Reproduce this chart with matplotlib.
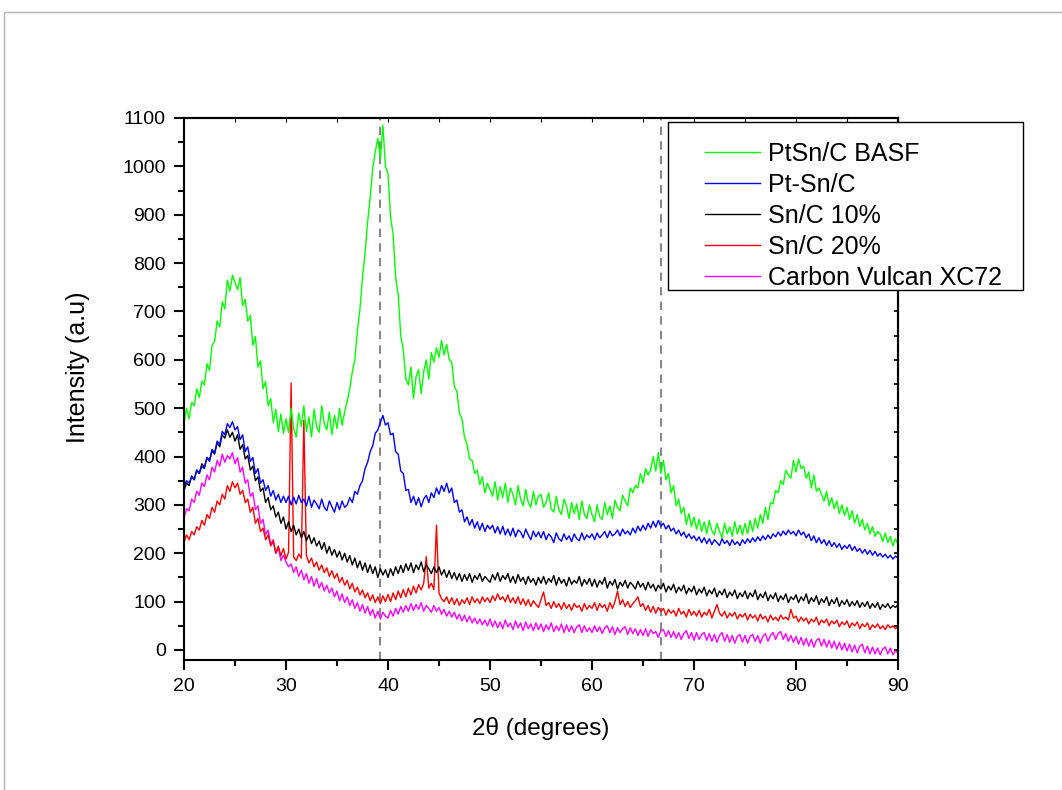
"""
XRD patterns of the PtSn/C catalysts and carbon supports,
intensity as function of 2theta, read off the published figure.
"""
import numpy as np
import matplotlib
matplotlib.use('Agg')
import matplotlib.pyplot as plt
from matplotlib.patches import Rectangle

# 2theta grid, 0.25 degree steps from 20 to 90
two_theta = np.arange(281) * 0.25 + 20

labels = ['PtSn/C BASF', 'Pt-Sn/C', 'Sn/C 10%', 'Sn/C 20%', 'Carbon Vulcan XC72']
colors = ['#00ff00', '#0000ff', '#000000', '#ff0000', '#ff00ff']

# one row = 5 degrees (20 points), last value is 90 deg
ptsn_basf = [
    468, 500, 478, 512, 505, 540, 522, 556, 548, 592, 578, 630, 638, 680, 668, 720, 705, 765, 742, 775,
    760, 745, 770, 712, 725, 680, 692, 630, 648, 585, 598, 540, 555, 505, 520, 470, 498, 452, 488, 448,
    478, 450, 500, 458, 440, 490, 462, 505, 452, 482, 440, 498, 462, 450, 505, 468, 455, 492, 445, 485,
    458, 500, 465, 492, 515, 540, 575, 600, 660, 705, 770, 820, 885, 935, 995, 1030, 1058, 1015, 1085, 1000,
    985, 895, 860, 770, 735, 650, 620, 560, 548, 585, 520, 565, 580, 530, 575, 600, 560, 615, 595, 625,
    605, 640, 610, 632, 600, 595, 545, 535, 490, 478, 440, 425, 395, 392, 365, 372, 342, 358, 325, 345,
    332, 318, 348, 310, 338, 315, 345, 305, 335, 322, 300, 340, 312, 298, 332, 305, 295, 328, 300, 318,
    322, 295, 305, 325, 292, 285, 318, 290, 280, 312, 298, 272, 305, 282, 302, 270, 308, 280, 272, 300,
    280, 265, 300, 276, 270, 305, 280, 298, 272, 310, 295, 288, 320, 308, 298, 335, 325, 340, 335, 365,
    345, 375, 362, 372, 400, 370, 408, 365, 392, 352, 365, 325, 340, 298, 312, 282, 295, 260, 282, 255,
    275, 250, 270, 245, 265, 240, 268, 246, 238, 262, 245, 232, 262, 240, 255, 235, 265, 240, 258, 238,
    262, 240, 268, 245, 272, 252, 280, 262, 295, 270, 305, 302, 330, 325, 350, 342, 372, 362, 355, 392,
    368, 395, 375, 380, 355, 368, 335, 362, 328, 335, 322, 308, 328, 298, 315, 292, 308, 282, 300, 278,
    295, 270, 288, 262, 280, 255, 270, 248, 262, 240, 255, 235, 245, 240, 225, 242, 222, 235, 215, 230,
    218]

pt_sn_c = [
    338, 350, 345, 358, 352, 372, 365, 380, 375, 398, 390, 415, 408, 432, 425, 452, 445, 468, 460, 472,
    455, 462, 435, 445, 410, 420, 390, 398, 365, 375, 345, 352, 330, 340, 318, 330, 310, 322, 305, 318,
    305, 318, 300, 316, 302, 320, 305, 312, 298, 318, 295, 310, 302, 292, 312, 295, 288, 308, 296, 285,
    305, 290, 308, 295, 300, 315, 305, 328, 322, 340, 350, 375, 388, 410, 422, 448, 455, 470, 485, 465,
    470, 445, 448, 410, 405, 370, 365, 330, 332, 305, 318, 300, 315, 296, 312, 320, 305, 325, 315, 335,
    322, 340, 328, 345, 325, 335, 305, 310, 285, 290, 265, 275, 258, 270, 252, 265, 248, 262, 245, 258,
    250, 258, 242, 255, 240, 256, 238, 250, 236, 252, 234, 248, 244, 232, 250, 238, 228, 246, 234, 244,
    232, 245, 228, 240, 234, 222, 242, 230, 225, 240, 228, 236, 224, 240, 230, 226, 242, 228, 238, 232,
    240, 228, 242, 232, 238, 245, 232, 246, 236, 240, 248, 236, 250, 240, 246, 238, 252, 242, 256, 246,
    258, 248, 262, 252, 266, 254, 268, 256, 262, 250, 258, 246, 252, 240, 248, 236, 244, 232, 240, 230,
    236, 226, 234, 222, 232, 220, 230, 218, 228, 222, 216, 230, 220, 226, 216, 228, 218, 224, 216, 228,
    220, 230, 222, 232, 224, 234, 226, 236, 228, 238, 230, 240, 234, 244, 236, 246, 238, 248, 240, 245,
    236, 248, 238, 244, 232, 240, 226, 236, 222, 232, 220, 228, 216, 226, 214, 222, 212, 220, 208, 216,
    210, 218, 206, 214, 204, 210, 200, 208, 198, 206, 196, 204, 194, 200, 192, 198, 190, 196, 188, 194,
    190]

sn_c_10 = [
    330, 345, 340, 360, 352, 372, 365, 385, 378, 398, 392, 412, 405, 428, 420, 445, 438, 455, 440, 450,
    432, 445, 415, 425, 395, 402, 372, 380, 350, 358, 328, 335, 305, 315, 290, 298, 275, 285, 262, 275,
    250, 265, 245, 258, 238, 250, 232, 245, 226, 238, 220, 232, 215, 225, 208, 222, 200, 214, 196, 208,
    192, 204, 186, 200, 182, 195, 176, 190, 170, 184, 165, 180, 160, 176, 158, 172, 150, 168, 155, 166,
    150, 168, 154, 172, 158, 175, 160, 178, 164, 180, 160, 176, 166, 182, 162, 176, 168, 158, 172, 160,
    172, 155, 166, 150, 164, 148, 160, 145, 158, 142, 156, 144, 158, 140, 154, 146, 158, 142, 152, 146,
    140, 156, 145, 160, 142, 154, 146, 158, 140, 152, 138, 156, 142, 150, 136, 152, 140, 148, 134, 150,
    138, 152, 136, 148, 140, 154, 134, 150, 138, 146, 132, 150, 136, 144, 138, 152, 132, 146, 136, 148,
    132, 146, 130, 144, 136, 150, 128, 142, 134, 146, 126, 140, 132, 144, 128, 140, 134, 126, 142, 130,
    138, 124, 140, 128, 136, 122, 134, 126, 138, 120, 132, 124, 136, 118, 130, 122, 134, 116, 128, 120,
    132, 114, 126, 118, 130, 112, 124, 116, 128, 110, 122, 114, 126, 108, 120, 112, 124, 106, 118, 110,
    122, 106, 118, 110, 124, 104, 116, 108, 120, 102, 114, 106, 118, 100, 112, 104, 116, 98, 110, 104,
    114, 98, 110, 102, 116, 96, 108, 100, 112, 94, 106, 98, 110, 92, 104, 96, 108, 90, 102, 94,
    104, 90, 100, 92, 102, 88, 98, 90, 100, 86, 96, 88, 98, 84, 94, 88, 96, 86, 92, 88,
    94]

sn_c_20 = [
    222, 238, 228, 245, 238, 255, 248, 268, 258, 280, 272, 295, 285, 308, 300, 322, 312, 340, 328, 348,
    335, 345, 322, 330, 305, 312, 285, 295, 262, 272, 245, 252, 228, 238, 215, 225, 200, 215, 195, 210,
    188, 202, 552, 192, 185, 198, 190, 475, 195, 180, 190, 172, 182, 165, 176, 160, 170, 152, 164, 148,
    158, 140, 150, 134, 144, 126, 138, 120, 130, 114, 124, 108, 118, 102, 114, 98, 110, 96, 112, 100,
    115, 100, 118, 104, 122, 108, 125, 110, 128, 114, 132, 118, 135, 124, 138, 193, 128, 138, 125, 258,
    118, 106, 100, 110, 96, 108, 94, 106, 92, 104, 96, 108, 94, 110, 98, 106, 96, 110, 100, 108,
    98, 112, 102, 116, 104, 110, 100, 114, 98, 108, 96, 110, 94, 106, 92, 104, 90, 102, 94, 88,
    104, 120, 92, 98, 86, 100, 88, 96, 84, 98, 86, 94, 82, 96, 88, 92, 80, 96, 84, 92,
    86, 98, 82, 96, 88, 94, 80, 98, 86, 100, 122, 94, 104, 90, 100, 88, 96, 102, 110, 90,
    96, 82, 92, 78, 90, 76, 88, 80, 86, 72, 84, 76, 82, 70, 86, 74, 80, 68, 84, 72,
    80, 70, 82, 68, 78, 72, 84, 66, 80, 94, 76, 70, 80, 66, 76, 70, 78, 64, 74, 68,
    76, 62, 74, 66, 72, 60, 74, 64, 70, 58, 72, 62, 68, 60, 72, 64, 68, 62, 84, 66,
    70, 58, 68, 60, 66, 54, 64, 58, 68, 52, 62, 56, 64, 50, 60, 54, 62, 48, 58, 52,
    60, 46, 56, 50, 58, 44, 54, 48, 56, 42, 52, 46, 54, 44, 50, 42, 52, 46, 50, 44,
    48]

vulcan_xc72 = [
    272, 292, 288, 312, 305, 328, 320, 345, 338, 362, 352, 378, 368, 392, 380, 405, 388, 402, 395, 408,
    385, 398, 368, 378, 345, 352, 318, 325, 290, 298, 262, 270, 238, 248, 218, 228, 200, 212, 185, 196,
    182, 172, 178, 160, 172, 152, 165, 145, 158, 138, 152, 132, 148, 128, 140, 122, 134, 118, 128, 110,
    122, 102, 116, 98, 110, 92, 104, 86, 98, 80, 94, 76, 90, 72, 84, 66, 80, 64, 78, 70,
    66, 82, 70, 86, 74, 90, 78, 92, 80, 96, 82, 94, 84, 98, 80, 92, 86, 78, 92, 80,
    88, 74, 84, 70, 80, 68, 78, 64, 74, 60, 72, 58, 70, 56, 66, 54, 64, 52, 62, 50,
    64, 48, 60, 46, 58, 44, 62, 48, 56, 42, 60, 46, 56, 40, 58, 44, 54, 40, 56, 42,
    54, 38, 52, 42, 56, 38, 50, 40, 54, 36, 52, 38, 50, 36, 48, 52, 36, 50, 38, 46,
    36, 50, 38, 48, 34, 46, 50, 36, 48, 32, 46, 36, 44, 48, 32, 46, 34, 44, 30, 42,
    30, 44, 28, 42, 34, 38, 26, 40, 42, 28, 40, 26, 38, 24, 36, 22, 34, 40, 24, 36,
    20, 36, 22, 32, 36, 20, 34, 18, 32, 16, 30, 36, 18, 32, 16, 30, 14, 28, 32, 16,
    30, 14, 28, 32, 18, 30, 14, 28, 34, 18, 30, 36, 22, 34, 38, 22, 34, 18, 30, 16,
    28, 12, 26, 10, 24, 8, 22, 6, 20, 24, 8, 22, 6, 20, 4, 18, 2, 16, 0, 14,
    -2, 12, -4, 10, -6, 8, 12, -6, 8, -8, 6, -8, 4, -10, 2, 6, -8, 4, -10, -2,
    -6]

# reference positions (Pt (111) and Pt (220))
ref_lines = [39.2, 66.8]

plt.rcParams['font.family'] = ['Liberation Sans', 'DejaVu Sans']

fig = plt.figure(figsize=(10.62, 7.90), dpi=100)
# grey page frame
fig.patches.append(Rectangle((4 / 1062, -0.1), 1.2, 1.1 - 12 / 790, transform=fig.transFigure,
                             fill=False, edgecolor='#b4b4b4', linewidth=1.0))

ax = fig.add_axes([184 / 1062, 1 - 660 / 790, 714 / 1062, 542 / 790])

series = [ptsn_basf, pt_sn_c, sn_c_10, sn_c_20, vulcan_xc72]
# draw carbon first so the upper curves sit on top like in the original
for values, label, color in reversed(list(zip(series, labels, colors))):
    ax.plot(two_theta, values, color=color, linewidth=1.0, label=label)

for xr in ref_lines:
    ax.axvline(xr, color='#888888', linestyle=(0, (4, 3)), linewidth=1.5, zorder=0)

ax.set_xlim(20, 90)
ax.set_ylim(-20.7, 1100)
ax.set_xticks(np.arange(20, 91, 10))
ax.set_xticks(np.arange(25, 90, 10), minor=True)
ax.set_yticks(np.arange(0, 1101, 100))
ax.set_yticks(np.arange(50, 1100, 100), minor=True)

ax.tick_params(which='both', direction='out', labelsize=14, width=1.5, pad=6,
               top=False, right=False)
ax.tick_params(which='major', length=7)
ax.tick_params(which='minor', length=4)
ax2 = ax.secondary_xaxis('top')
ax2.set_xticks(np.arange(20, 91, 5))
ax2.tick_params(direction='in', length=3, width=0.8, labeltop=False)
ax3 = ax.secondary_yaxis('right')
ax3.set_yticks(np.arange(0, 1101, 50))
ax3.tick_params(direction='in', length=3, width=1.2, labelright=False)
for s in ['top', 'right', 'bottom', 'left']:
    ax.spines[s].set_linewidth(1.5)
ax2.spines['top'].set_linewidth(1.5)
ax3.spines['right'].set_linewidth(1.5)

ax.set_xlabel('2\u03b8 (degrees)', fontsize=17.5, labelpad=16)
ax.set_ylabel('Intensity (a.u)', fontsize=18)
ax.yaxis.set_label_coords(-0.132, 0.54)

# legend box sticks out past the right spine, so draw its frame by hand
fig.patches.append(Rectangle((668 / 1062, 1 - 290 / 790), 355 / 1062, 168 / 790,
                             transform=fig.transFigure, facecolor='white',
                             edgecolor='black', linewidth=1.0, zorder=4))
handles, hl = ax.get_legend_handles_labels()
leg = fig.legend(handles[::-1], hl[::-1], loc='upper left',
                 bbox_to_anchor=(705 / 1062, 1 - 142 / 790), fontsize=18,
                 frameon=False, borderpad=0, labelspacing=0.28,
                 handlelength=2.2, handletextpad=0.32, borderaxespad=0)
leg.set_zorder(5)

fig.savefig('out.png', dpi=100)
